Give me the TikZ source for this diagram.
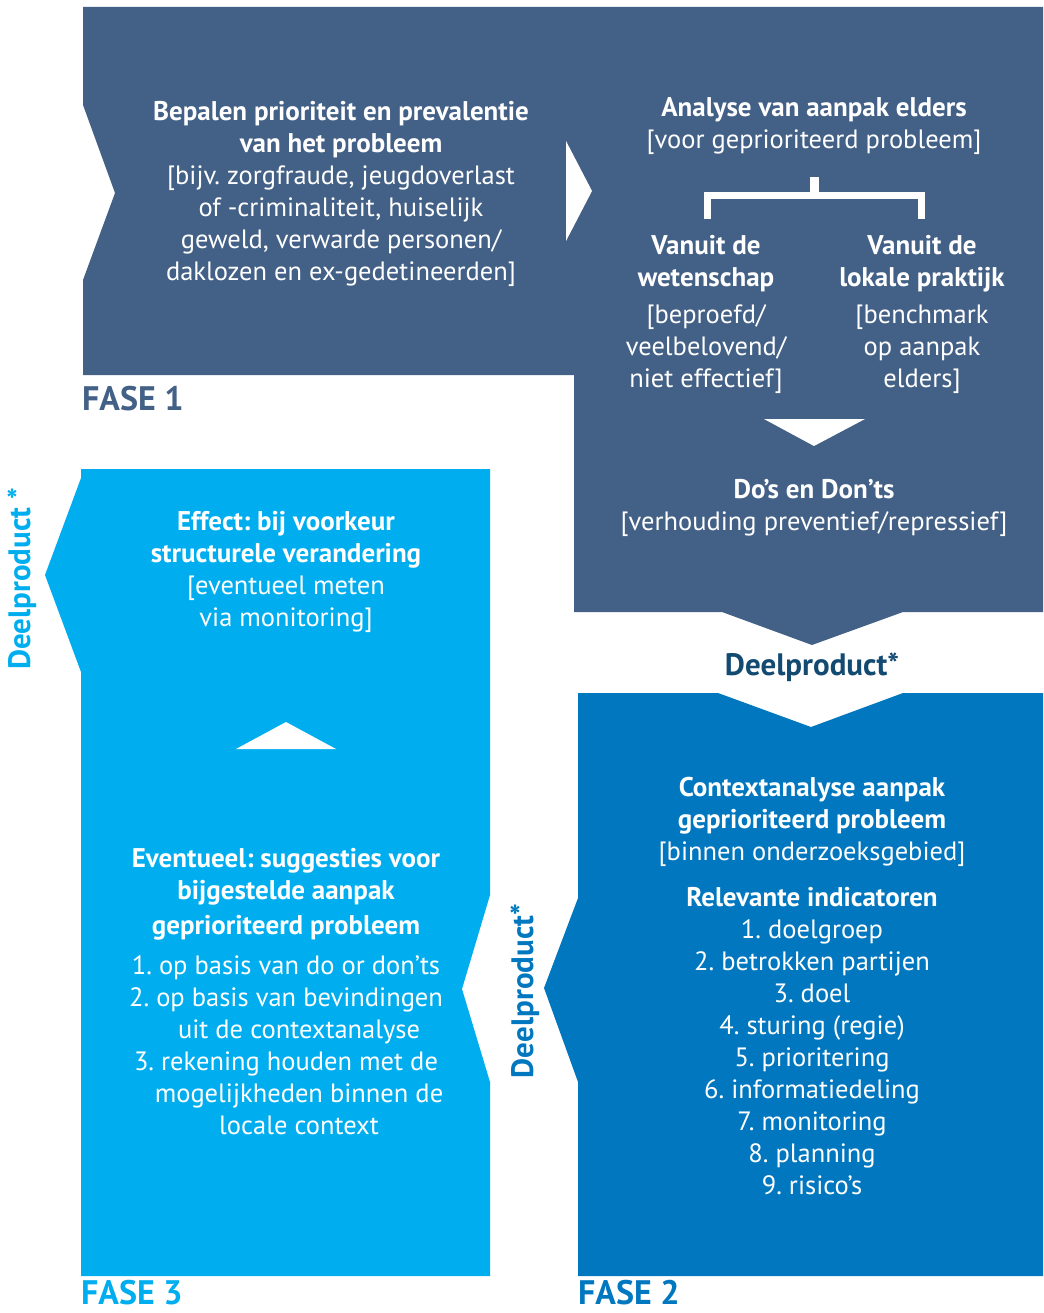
\documentclass[tikz,border=0pt]{standalone}
\usepackage{fontspec}
\setmainfont{PT Sans}
\frenchspacing
\definecolor{fasea}{HTML}{436086}
\definecolor{faseb}{HTML}{0077BF}
\definecolor{fasec}{HTML}{00AEEF}
\definecolor{navy}{HTML}{134A72}
\newcommand{\bb}[1]{{\fontsize{27}{32}\selectfont\bfseries #1}}
\tikzset{
  txt/.style={text=white, align=center, inner sep=0pt, yshift=-3pt, font=\fontsize{26.5}{32}\selectfont},
  btxt/.style={txt, font=\fontsize{27}{32}\selectfont\bfseries},
  fase/.style={anchor=base west, inner sep=0pt, font=\fontsize{34}{40}\selectfont\bfseries},
  deel/.style={inner sep=0pt, font=\fontsize{31}{36}\selectfont\bfseries},
  cut/.style={fill=white, draw=none}
}
\begin{document}
\begin{tikzpicture}[x=1pt,y=-1pt]
\useasboundingbox (0,0) rectangle (1043,1313);
% FASE 1 shape
\fill[fasea] (83,7) -- (1043,7) -- (1043,612) -- (903,612) -- (812,645) -- (722,612)
  -- (574,612) -- (574,375) -- (83,375) -- (83,280) -- (115,193) -- (83,105) -- cycle;
% FASE 2 shape
\fill[faseb] (578,693) -- (718,693) -- (811,727) -- (903,693) -- (1043,693) -- (1043,1276)
  -- (578,1276) -- (578,1082) -- (544,988) -- (578,898) -- cycle;
% FASE 3 shape
\fill[fasec] (81,469) -- (490,469) -- (490,895) -- (462,989) -- (490,1082) -- (490,1276)
  -- (81,1276) -- (81,672) -- (45,575) -- (81,478) -- cycle;
% white arrows
\fill[cut] (566,141) -- (592,191) -- (566,241) -- cycle;
\fill[cut] (764,419) -- (865,419) -- (814,446) -- cycle;
\fill[cut] (236,749) -- (336,749) -- (286,722) -- cycle;
% bracket
\fill[cut] (704,192) rectangle (925,199);
\fill[cut] (704,192) rectangle (711,219);
\fill[cut] (918,192) rectangle (925,219);
\fill[cut] (810,177) rectangle (819,193);

% FASE 1 texts
\node[txt] (p1a) at (341,191) {\bb{Bepalen prioriteit en prevalentie}\\\bb{van het probleem}\\{}[bijv. zorgfraude, jeugdoverlast\\of -criminaliteit, huiselijk\\geweld, verwarde personen/\\daklozen en ex-gedetineerden]};
\node[txt] (p1b) at (814,123) {\bb{Analyse van aanpak elders}\\{}[voor geprioriteerd probleem]};
\node[btxt] (p1c) at (706,261) {Vanuit de\\wetenschap};
\node[txt] (p1d) at (706,346) {{}[beproefd/\\veelbelovend/\\niet effectief]};
\node[btxt] (p1e) at (922,261) {Vanuit de\\lokale praktijk};
\node[txt] (p1f) at (922,346) {{}[benchmark\\op aanpak\\elders]};
\node[txt] (p1g) at (814,505) {\bb{Do’s en Don’ts}\\{}[verhouding preventief/repressief]};
\node[fase, text=fasea] (f1) at (82,410) {FASE 1};
\node[deel, text=navy] (d1) at (812,667) {Deelproduct*};

% FASE 2 texts
\node[txt] (p2a) at (812,819) {\bb{Contextanalyse aanpak}\\\bb{geprioriteerd probleem}\\{}[binnen onderzoeksgebied]};
\node[txt] (p2b) at (812,1038) {\bb{Relevante indicatoren}\\1. doelgroep\\2. betrokken partijen\\3. doel\\4. sturing (regie)\\5. prioritering\\6. informatiedeling\\7. monitoring\\8. planning\\9. risico’s};
\node[fase, text=faseb] (f2) at (578,1304) {FASE 2};
\node[deel, text=faseb, rotate=90] (d2) at (525,991) {Deelproduct*};

% FASE 3 texts
\node[txt] (p3a) at (286,569) {\bb{Effect: bij voorkeur}\\\bb{structurele verandering}\\{}[eventueel meten\\via monitoring]};
\node[btxt] (p3b) at (286,858) {Eventueel: suggesties voor};
\node[btxt] (p3c) at (286,890) {bijgestelde aanpak};
\node[btxt] (p3d) at (286,925) {geprioriteerd probleem};
\node[txt] (l1) at (286,965) {1. op basis van do or don’ts};
\node[txt] (l2) at (286,997) {2. op basis van bevindingen};
\node[txt] (l3) at (299,1029) {uit de contextanalyse};
\node[txt] (l4) at (286,1061) {3. rekening houden met de};
\node[txt] (l5) at (299,1093) {mogelijkheden binnen de};
\node[txt] (l6) at (299,1122) {locale context};
\node[fase, text=fasec] (f3) at (81,1304) {FASE 3};
\node[deel, text=fasec, rotate=90] (d3) at (22,579) {Deelproduct *};
\end{tikzpicture}
\end{document}
